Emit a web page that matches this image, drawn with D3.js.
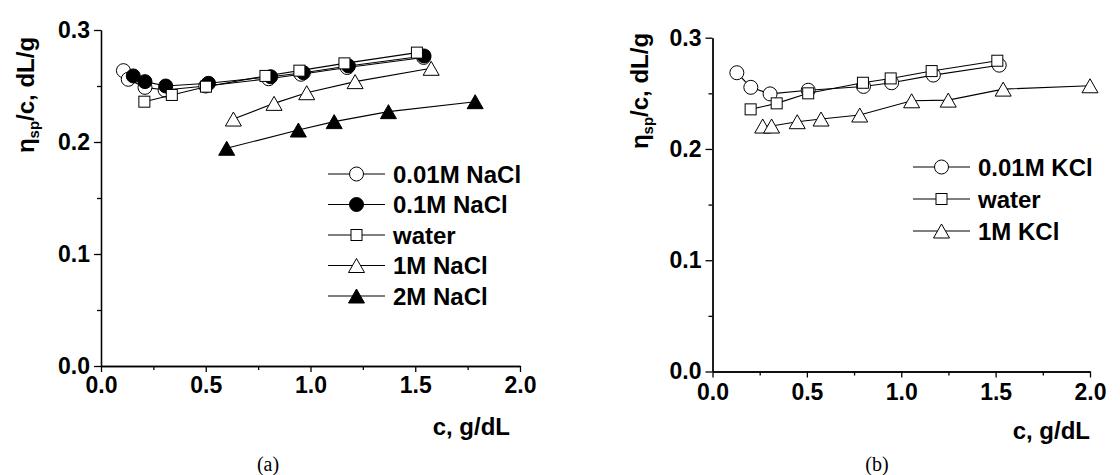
<!DOCTYPE html>
<html>
<head>
<meta charset="utf-8">
<script src="https://cdn.jsdelivr.net/npm/d3@7"></script>
<style>
  body { margin: 0; background: #fff; }
  svg { display: block; }
</style>
</head>
<body>
<script>
// panel (a): NaCl series
const cA001 = [0.107, 0.13, 0.21, 0.306, 0.5, 0.8, 0.955, 1.175, 1.54];
const vA001 = [0.2637, 0.256, 0.2488, 0.2464, 0.25, 0.2565, 0.2605, 0.2665, 0.2755];
const cA01 = [0.154, 0.21, 0.309, 0.513, 0.81, 0.966, 1.181, 1.542];
const vA01 = [0.259, 0.2539, 0.25, 0.2524, 0.2583, 0.2619, 0.2679, 0.2768];
const cAw = [0.207, 0.338, 0.501, 0.785, 0.947, 1.162, 1.508];
const vAw = [0.236, 0.242, 0.2494, 0.259, 0.2637, 0.2702, 0.2798];
const cA1 = [0.632, 0.826, 0.982, 1.213, 1.576];
const vA1 = [0.2205, 0.2345, 0.244, 0.2539, 0.2658];
const cA2 = [0.6, 0.942, 1.113, 1.372, 1.786];
const vA2 = [0.1944, 0.2107, 0.2182, 0.2271, 0.236];

// panel (b): KCl series
const cB001 = [0.129, 0.203, 0.305, 0.507, 0.8, 0.949, 1.17, 1.519];
const vB001 = [0.2685, 0.2554, 0.2495, 0.2528, 0.2562, 0.2595, 0.2664, 0.2753];
const cBw = [0.202, 0.34, 0.507, 0.797, 0.944, 1.161, 1.509];
const vBw = [0.2356, 0.241, 0.25, 0.2595, 0.2634, 0.27, 0.2793];
const cB1 = [0.266, 0.313, 0.449, 0.575, 0.78, 1.055, 1.249, 1.54, 2.0];
const vB1 = [0.2206, 0.2206, 0.2245, 0.2269, 0.2305, 0.2433, 0.2439, 0.2538, 0.2568];

const xTicks = [0, 0.5, 1, 1.5, 2];
const xMinor = [0.25, 0.75, 1.25, 1.75];
const yTicks = [0, 0.1, 0.2, 0.3];
const yMinor = [0.05, 0.15, 0.25];

const font = "'Liberation Sans', Arial, sans-serif";

const svg = d3
  .select("body")
  .append("svg")
  .attr("width", 1120)
  .attr("height", 475);

const marker = (sel, shape, fill) => {
  if (shape === "circle") {
    sel.append("circle").attr("r", 7);
  } else if (shape === "square") {
    sel.append("rect").attr("x", -5.5).attr("y", -5.5).attr("width", 11).attr("height", 11);
  } else {
    sel.append("path").attr("d", "M0,-7L8,7L-8,7Z");
  }
  sel.selectAll("*")
    .attr("fill", fill)
    .attr("stroke", "#000")
    .attr("stroke-width", 1);
};

const drawPanel = (p) => {
  const x = d3.scaleLinear().domain([0, 2]).range(p.xr);
  const y = d3.scaleLinear().domain([0, 0.3]).range(p.yr);
  const g = svg.append("g");

  const xAxis = d3.axisBottom(x).tickValues(xTicks).tickFormat(d3.format(".1f"))
    .tickSize(6).tickSizeOuter(0).tickPadding(p.xpad);
  const xAxisMinor = d3.axisBottom(x).tickValues(xMinor).tickFormat("").tickSize(4).tickSizeOuter(0);
  const yAxis = d3.axisLeft(y).tickValues(yTicks).tickFormat(d3.format(".1f"))
    .tickSize(7).tickSizeOuter(0).tickPadding(4);
  const yAxisMinor = d3.axisLeft(y).tickValues(yMinor).tickFormat("").tickSize(4).tickSizeOuter(0);

  g.append("g").attr("transform", `translate(0 ${p.yr[0]})`).call(xAxisMinor);
  g.append("g").attr("transform", `translate(0 ${p.yr[0]})`).call(xAxis);
  g.append("g").attr("transform", `translate(${p.xr[0]} 0)`).call(yAxisMinor);
  g.append("g").attr("transform", `translate(${p.xr[0]} 0)`).call(yAxis);

  g.selectAll(".domain, .tick line").attr("stroke", "#000").attr("stroke-width", 1.3);
  g.selectAll(".tick text")
    .attr("fill", "#000")
    .attr("font-family", font)
    .attr("font-weight", "bold")
    .attr("font-size", 23);

  p.series.forEach((s) => {
    const pts = s.c.map((c, i) => [c, s.v[i]]);
    g.append("path")
      .attr("d", d3.line().x((d) => x(d[0])).y((d) => y(d[1]))(pts))
      .attr("fill", "none")
      .attr("stroke", "#000")
      .attr("stroke-width", 1.1);
    g.selectAll(null)
      .data(pts)
      .enter()
      .append("g")
      .attr("transform", (d) => `translate(${x(d[0])} ${y(d[1])})`)
      .each(function () { marker(d3.select(this), s.shape, s.fill); });
  });

  // legend
  p.series.forEach((s, i) => {
    const ly = p.legY + i * p.legStep;
    const lg = g.append("g");
    lg.append("line")
      .attr("x1", p.legX).attr("x2", p.legX + 57)
      .attr("y1", ly).attr("y2", ly)
      .attr("stroke", "#000").attr("stroke-width", 1.1);
    lg.append("g")
      .attr("transform", `translate(${p.legX + 28.5} ${ly})`)
      .each(function () { marker(d3.select(this), s.shape, s.fill); });
    lg.append("text")
      .attr("x", p.legX + 65)
      .attr("y", ly)
      .attr("dy", "0.36em")
      .attr("font-family", font)
      .attr("font-weight", "bold")
      .attr("font-size", 24)
      .text(s.name);
  });

  // axis titles
  const yt = g.append("text")
    .attr("transform", `translate(${p.ytX} ${p.ytY}) rotate(-90)`)
    .attr("text-anchor", "middle")
    .attr("font-family", font)
    .attr("font-weight", "bold")
    .attr("font-size", 24);
  yt.append("tspan").text("η");
  yt.append("tspan").attr("font-size", 15).attr("dy", 5).text("sp");
  yt.append("tspan").attr("dy", -5).text("/c, dL/g");

  g.append("text")
    .attr("x", p.xtX)
    .attr("y", p.xtY)
    .attr("text-anchor", "end")
    .attr("font-family", font)
    .attr("font-weight", "bold")
    .attr("font-size", 24)
    .text("c, g/dL");

  g.append("text")
    .attr("x", p.capX)
    .attr("y", 471)
    .attr("text-anchor", "middle")
    .attr("font-family", "'Liberation Serif', 'Times New Roman', serif")
    .attr("font-size", 20)
    .text(p.caption);
};

drawPanel({
  xr: [101, 520],
  yr: [366, 30],
  xpad: 5,
  series: [
    { name: "0.01M NaCl", c: cA001, v: vA001, shape: "circle", fill: "#fff" },
    { name: "0.1M NaCl", c: cA01, v: vA01, shape: "circle", fill: "#000" },
    { name: "water", c: cAw, v: vAw, shape: "square", fill: "#fff" },
    { name: "1M NaCl", c: cA1, v: vA1, shape: "triangle", fill: "#fff" },
    { name: "2M NaCl", c: cA2, v: vA2, shape: "triangle", fill: "#000" },
  ],
  legX: 328,
  legY: 174,
  legStep: 30.5,
  ytX: 34,
  ytY: 95,
  xtX: 510,
  xtY: 435,
  capX: 268,
  caption: "(a)",
});

drawPanel({
  xr: [712.5, 1090],
  yr: [371.5, 37.7],
  xpad: 6,
  series: [
    { name: "0.01M KCl", c: cB001, v: vB001, shape: "circle", fill: "#fff" },
    { name: "water", c: cBw, v: vBw, shape: "square", fill: "#fff" },
    { name: "1M KCl", c: cB1, v: vB1, shape: "triangle", fill: "#fff" },
  ],
  legX: 913,
  legY: 167,
  legStep: 32,
  ytX: 648,
  ytY: 91,
  xtX: 1090,
  xtY: 439,
  capX: 877,
  caption: "(b)",
});
</script>
</body>
</html>
